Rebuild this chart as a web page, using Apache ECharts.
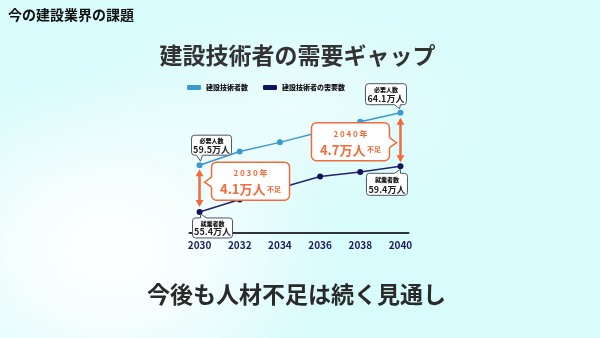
<!DOCTYPE html>
<html><head><meta charset="utf-8">
<script src="https://cdn.jsdelivr.net/npm/echarts@6/dist/echarts.min.js"></script>
<style>
html,body{margin:0;padding:0;}
#c{width:600px;height:338px;background:
 radial-gradient(ellipse 230px 180px at 110px 250px, rgba(255,255,255,1) 0%, rgba(255,255,255,0.75) 40%, rgba(255,255,255,0) 100%),
 radial-gradient(ellipse 220px 110px at 290px 110px, rgba(255,255,255,0.5), rgba(255,255,255,0) 100%),
 #d8fbfb;}
</style></head><body><div id="c"></div>
<script>
const years = [2030, 2032, 2034, 2036, 2038, 2040];
const techCount = [59.5, 60.7, 61.5, 62.4, 63.3, 64.1];
const demandCount = [55.4, 56.5, 57.5, 58.5, 58.9, 59.4];
const xTickLabels = [2030, 2032, 2034, 2036, 2038, 2040];
const legendNames = ['建設技術者数', '建設技術者の需要数'];
const cornerTitle = '今の建設業界の課題';
const mainTitle = '建設技術者の需要ギャップ';
const footerText = '今後も人材不足は続く見通し';
const upperLabel = '必要人数';
const lowerLabel = '就業者数';

const FF = "'Noto Sans CJK JP', 'Noto Sans', sans-serif";
const ORANGE = '#f26b3c';
const BORDER = '#4e5566';
const chart = echarts.init(document.getElementById('c'), null, {renderer: 'canvas'});

chart.setOption({
  backgroundColor: 'transparent',
  animation: false,
  textStyle: {fontFamily: FF},
  legend: {
    data: legendNames, left: 187, top: 84, icon: 'roundRect', itemWidth: 14, itemHeight: 5,
    itemGap: 15, padding: 0,
    textStyle: {fontSize: 7, fontWeight: 900, color: '#111', fontFamily: FF}
  },
  grid: {left: 189.5, right: 191.5, top: 107, bottom: 105.5},
  xAxis: {
    type: 'value', min: 2029.5, max: 2040.4,
    axisLine: {show: true, lineStyle: {color: '#2f3440', width: 2}},
    axisTick: {show: false}, splitLine: {show: false},
    axisLabel: {customValues: xTickLabels, formatter: v => String(v), color: '#1b1b5c', fontWeight: 'bold', fontSize: 10, margin: 8, fontFamily: FF}
  },
  yAxis: {type: 'value', min: 53.6, max: 64.6, show: false},
  series: [
    {name: legendNames[0], type: 'line', data: years.map((y, i) => [y, techCount[i]]),
     symbol: 'circle', symbolSize: 6, color: '#3a9ad0',
     lineStyle: {width: 1.5, color: '#3a9ad0'}, itemStyle: {color: '#3a9ad0'}},
    {name: legendNames[1], type: 'line', data: years.map((y, i) => [y, demandCount[i]]),
     symbol: 'circle', symbolSize: 6, color: '#17176a',
     lineStyle: {width: 1.5, color: '#232370'}, itemStyle: {color: '#14145e'}}
  ]
});

function px(x, y) { return chart.convertToPixel({gridIndex: 0}, [x, y]); }
const Z = 100;
const G = [];
function text(x, y, t, size, color, weight, extra) {
  G.push(Object.assign({type: 'text', z: Z + 2, style: Object.assign({x, y, text: t, fontSize: size, fill: color,
    fontWeight: weight || 'bold', fontFamily: FF, align: 'center', verticalAlign: 'middle'}, extra || {})}));
}
function callout(bx, by, w, h, r, stroke, lw, b1, b2, tip, b1in, b2in) {
  G.push({type: 'rect', z: Z, shape: {x: bx, y: by, width: w, height: h, r}, style: {fill: '#fff', stroke, lineWidth: lw}});
  G.push({type: 'polygon', z: Z + 1, shape: {points: [b1in, b1, tip, b2, b2in]}, style: {fill: '#fff'}});
  G.push({type: 'polyline', z: Z + 1, shape: {points: [b1, tip, b2]}, style: {stroke, lineWidth: lw, fill: null}});
}
function dblArrow(x, y1, y2) {
  G.push({type: 'line', z: Z + 3, shape: {x1: x, y1: y1 + 5, x2: x, y2: y2 - 5}, style: {stroke: ORANGE, lineWidth: 2.5}});
  G.push({type: 'polygon', z: Z + 3, shape: {points: [[x - 4, y1 + 7], [x + 4, y1 + 7], [x, y1]]}, style: {fill: ORANGE}});
  G.push({type: 'polygon', z: Z + 3, shape: {points: [[x - 4, y2 - 7], [x + 4, y2 - 7], [x, y2]]}, style: {fill: ORANGE}});
}

const n = years.length - 1;
const pU0 = px(years[0], techCount[0]);
const pL0 = px(years[0], demandCount[0]);
const pU1 = px(years[n], techCount[n]);
const pL1 = px(years[n], demandCount[n]);

dblArrow(pU0[0], pU0[1] + 4, pL0[1] - 5);
dblArrow(pU1[0], pU1[1] + 5, pL1[1] - 4);

function smallCallout(bx, by, w, h, tailSide, tx1, tx2, tip, label, value) {
  const edgeY = tailSide === 'bottom' ? by + h : by;
  const inY = tailSide === 'bottom' ? edgeY - 1.5 : edgeY + 1.5;
  callout(bx, by, w, h, 3, BORDER, 1, [tx1, edgeY], [tx2, edgeY], tip, [tx1, inY], [tx2, inY]);
  text(bx + w / 2, by + 6, label, 6, '#111', 900);
  text(bx + w / 2, by + h - 6, value.toFixed(1) + '万人', 9, '#222', 'bold');
}
smallCallout(pU0[0] - 8, pU0[1] - 30, 40, 20, 'bottom', pU0[0] - 3, pU0[0] + 3, [pU0[0] + 1, pU0[1] - 4], upperLabel, techCount[0]);
smallCallout(pU1[0] - 35, pU1[1] - 29, 41, 21, 'bottom', pU1[0] - 6, pU1[0], [pU1[0] - 1, pU1[1] - 4], upperLabel, techCount[n]);
smallCallout(pL0[0] - 7, pL0[1] + 6, 40, 20, 'top', pL0[0] + 1, pL0[0] + 7, [pL0[0] + 1, pL0[1] + 2], lowerLabel, demandCount[0]);
smallCallout(pL1[0] - 34, pL1[1] + 7, 41, 22, 'top', pL1[0] - 6, pL1[0], [pL1[0], pL1[1] + 3], lowerLabel, demandCount[n]);

function gapCallout(bx, by, side, year, gap) {
  const w = 78, h = 38;
  const ex = side === 'left' ? bx : bx + w;
  const inX = side === 'left' ? ex + 1.5 : ex - 1.5;
  const tipX = side === 'left' ? ex - 7 : ex + 7;
  callout(bx, by, w, h, 5, ORANGE, 1.5, [ex, by + 15], [ex, by + 25], [tipX, by + 20], [inX, by + 15], [inX, by + 25]);
  text(bx + w / 2, by + 11, String(year).split('').join(' ') + ' 年', 8, ORANGE, 'bold');
  G.push({type: 'text', z: Z + 2, style: {x: bx + w / 2, y: by + 27, align: 'center', verticalAlign: 'middle',
    text: '{b|' + gap.toFixed(1) + '万人}{s| 不足}', fill: ORANGE,
    rich: {b: {fontSize: 13, fontWeight: 'bold', fill: ORANGE, fontFamily: FF},
           s: {fontSize: 7, fontWeight: 'bold', fill: ORANGE, fontFamily: FF}}}});
}
gapCallout(pU0[0] + 12, pU0[1] - 3, 'left', years[0], techCount[0] - demandCount[0]);
gapCallout(pU1[0] - 89, pU1[1] + 10, 'right', years[n], techCount[n] - demandCount[n]);

G.push({type: 'text', z: Z, style: {x: 8, y: 15, text: cornerTitle, fontSize: 14, fontWeight: 'bold', fill: '#111', fontFamily: FF, align: 'left', verticalAlign: 'middle'}});
text(297.5, 55, mainTitle, 23, '#333', 'bold');
text(296.5, 294, footerText, 23, '#2a2a2a', 'bold');

chart.setOption({graphic: G});
</script></body></html>
